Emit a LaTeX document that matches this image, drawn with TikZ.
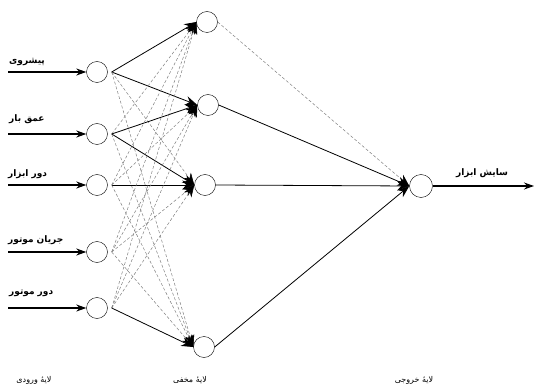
\documentclass[tikz,border=0pt]{standalone}
\usepackage{fontspec}
\newfontfamily\arabicfont[Script=Arabic]{DejaVu Sans}
\TeXXeTstate=1
\usetikzlibrary{arrows.meta,calc}
\begin{document}
\begin{tikzpicture}[x=1pt,y=-1pt,
  neuron/.style={circle,draw,thin,minimum size=21pt,inner sep=0pt},
  weak/.style={draw=gray,dash pattern=on 3pt off 2pt,line width=0.5pt,-{Stealth[length=12pt,width=9pt,color=black]}},
  strong/.style={draw=black,line width=0.8pt,-{Stealth[length=12pt,width=9pt]}},
  inarrow/.style={line width=1.1pt,-{Stealth[length=10pt,width=7pt]}},
  lbl/.style={font=\arabicfont\bfseries\small,inner sep=0pt},
  layerlbl/.style={font=\arabicfont\footnotesize,inner sep=0pt}]
\useasboundingbox (0,0) rectangle (535,390);
% input neurons
\node[neuron] (i1) at (97,72) {};
\node[neuron] (i2) at (97,134) {};
\node[neuron] (i3) at (97,185) {};
\node[neuron] (i4) at (97,252) {};
\node[neuron] (i5) at (97,308) {};
% hidden neurons
\node[neuron] (h1) at (207,22) {};
\node[neuron] (h2) at (208,105) {};
\node[neuron] (h3) at (205,185) {};
\node[neuron] (h4) at (204,347) {};
% output neuron
\node[neuron,minimum size=23pt] (o) at (421,186) {};
% input feeds
\coordinate (s1) at (8,72);
\coordinate (s2) at (8,134);
\coordinate (s3) at (8,185);
\coordinate (s4) at (8,252);
\coordinate (s5) at (8,308);
\foreach \k in {1,...,5} \draw[inarrow] (s\k) -- (i\k.west);
\coordinate (e) at (534,186);
\draw[inarrow] (o.east) -- (e);
% output points of inputs
\foreach \k in {1,...,5} \coordinate (p\k) at ($(i\k.east)+(4,0)$);
% labels
\node[lbl,anchor=south west] (l1) at (9,66) {\beginR پیشروی\endR};
\node[lbl,anchor=south west] (l2) at (9,124) {\beginR عمق بار\endR};
\node[lbl,anchor=south west] (l3) at (8,179) {\beginR دور ابزار\endR};
\node[lbl,anchor=south west] (l4) at (8,245) {\beginR جریان موتور\endR};
\node[lbl,anchor=south west] (l5) at (9,297) {\beginR دور موتور\endR};
\node[lbl,anchor=south west] (lo) at (456,178) {\beginR سایش ابزار\endR};
\node[layerlbl] (b1) at (34,380) {\beginR لایهٔ ورودی\endR};
\node[layerlbl] (b2) at (190,380) {\beginR لایهٔ مخفی\endR};
\node[layerlbl] (b3) at (414,380) {\beginR لایهٔ خروجی\endR};
% input -> hidden
\draw[strong] (p1) -- (h1.west);
\draw[strong] (p1) -- (h2.west);
\draw[weak] (p1) -- (h3.west);
\draw[weak] (p1) -- (h4.west);
\draw[weak] (p2) -- (h1.west);
\draw[strong] (p2) -- (h2.west);
\draw[strong] (p2) -- (h3.west);
\draw[weak] (p2) -- (h4.west);
\draw[weak] (p3) -- (h1.west);
\draw[weak] (p3) -- (h2.west);
\draw[strong] (p3) -- (h3.west);
\draw[weak] (p3) -- (h4.west);
\draw[weak] (p4) -- (h1.west);
\draw[weak] (p4) -- (h2.west);
\draw[weak] (p4) -- (h3.west);
\draw[weak] (p4) -- (h4.west);
\draw[weak] (p5) -- (h1.west);
\draw[weak] (p5) -- (h2.west);
\draw[weak] (p5) -- (h3.west);
\draw[strong] (p5) -- (h4.west);
% hidden -> output
\draw[weak] (h1.east) -- (o.west);
\draw[strong] (h2.east) -- (o.west);
\draw[strong] (h3.east) -- (o.west);
\draw[strong] (h4.east) -- (o.west);
\end{tikzpicture}
\end{document}
